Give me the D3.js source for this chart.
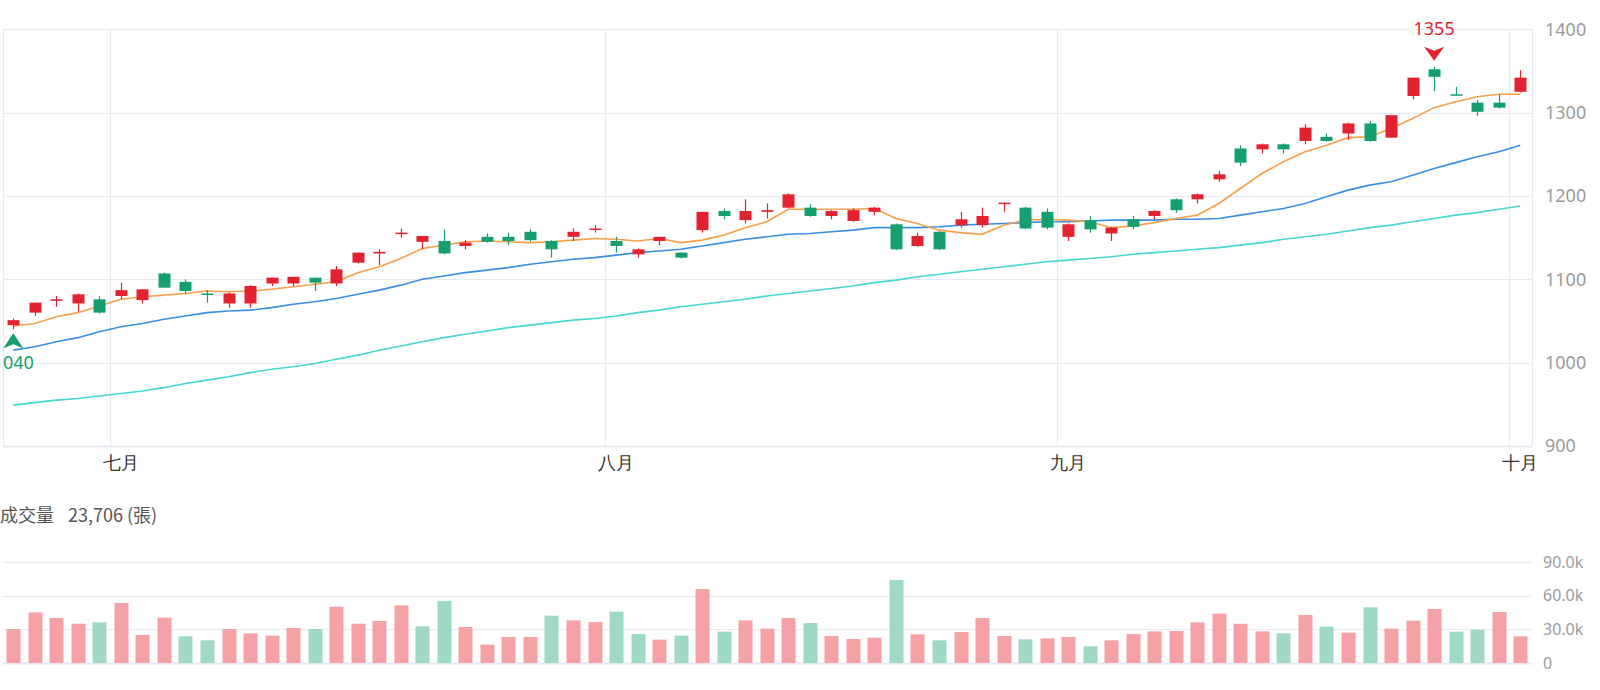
<!DOCTYPE html>
<html>
<head>
<meta charset="utf-8">
<style>
body { margin: 0; background: #fff; }
svg { display: block; font-family: "Noto Sans CJK TC", "Noto Sans", sans-serif; }
</style>
</head>
<body>
<div id="chart"></div>
<script src="https://cdnjs.cloudflare.com/ajax/libs/d3/7.8.5/d3.min.js"></script>
<script>
// trading days, 2025-06-24 .. 2025-10-01
var dates = [
  "06/24","06/25","06/26","06/27","06/30",
  "07/01","07/02","07/03","07/04","07/07","07/08","07/09","07/10","07/11","07/14","07/15","07/16",
  "07/17","07/18","07/21","07/22","07/23","07/24","07/25","07/28","07/29","07/30","07/31",
  "08/01","08/04","08/05","08/06","08/07","08/08","08/11","08/12","08/13","08/14","08/15","08/18",
  "08/19","08/20","08/21","08/22","08/25","08/26","08/27","08/28","08/29",
  "09/01","09/02","09/03","09/04","09/05","09/08","09/09","09/10","09/11","09/12","09/15","09/16",
  "09/17","09/18","09/19","09/22","09/23","09/24","09/25","09/26","09/30",
  "10/01"
];
var opens = [
  1045,1060,1075,1071,1076, 1080,1075,1107,1097,1083,1071,1071,1095,1095,1102,1095,1120,
  1131,1155,1145,1146,1140,1151,1151,1157,1146,1151,1160,
  1146,1130,1146,1132,1159,1182,1171,1181,1186,1186,1176,1170,
  1181,1166,1140,1157,1165,1165,1191,1186,1181,
  1151,1171,1155,1172,1176,1196,1196,1220,1257,1256,1262,1266,
  1271,1275,1287,1270,1320,1352,1322,1312,1312,
  1325
];
var closes = [
  1051,1072,1076,1082,1060, 1087,1088,1090,1086,1082,1083,1092,1102,1103,1096,1112,1132,
  1133,1156,1152,1131,1144,1145,1146,1147,1136,1157,1161,
  1140,1136,1151,1126,1181,1176,1182,1183,1202,1176,1182,1183,
  1186,1136,1152,1136,1172,1176,1192,1161,1162,
  1166,1160,1162,1163,1182,1183,1202,1226,1240,1262,1256,1282,
  1266,1287,1266,1297,1342,1343,1321,1301,1306,
  1342
];
var highs = [
  1053,1072,1080,1083,1080, 1096,1088,1108,1100,1087,1084,1093,1102,1103,1102,1116,1132,
  1136,1161,1152,1160,1147,1155,1156,1160,1147,1161,1165,
  1151,1137,1151,1132,1181,1185,1196,1191,1203,1190,1183,1185,
  1187,1167,1156,1158,1181,1186,1192,1187,1185,
  1167,1176,1163,1176,1183,1197,1203,1230,1261,1263,1263,1286,
  1275,1288,1290,1297,1342,1355,1331,1315,1322,
  1351
];
var lows = [
  1040,1056,1067,1061,1059, 1076,1071,1090,1082,1072,1066,1066,1092,1092,1086,1092,1119,
  1117,1150,1136,1130,1136,1144,1141,1145,1126,1146,1156,
  1132,1126,1141,1125,1156,1172,1167,1173,1185,1175,1172,1169,
  1177,1135,1139,1135,1162,1162,1181,1160,1160,
  1146,1156,1146,1160,1172,1180,1191,1217,1236,1251,1251,1262,
  1265,1267,1265,1270,1316,1326,1321,1296,1305,
  1324
];
var volumes = [
  30300,45100,40100,35000,36200, 53500,25000,40400,23800,20200,30300,26400,24400,31200,30300,50200,35000,
  37400,51400,32700,55200,32100,16300,23200,23200,42200,38000,36500,
  45700,25800,20800,24400,65900,27900,38000,30600,40100,35600,24100,21400,
  22600,74000,25500,20200,27600,40100,24100,21100,22000,
  23200,14900,20200,25800,28200,28500,36200,44000,35000,28200,26400,42800,
  32400,27000,49600,30600,37700,48100,27900,29700,45400,
  23706
];
var ma5 = [
  1044,1047,1055,1060,1068, 1076,1079,1081,1083,1086,1085,1086,1088,1091,1094,1097,1108,
  1115,1125,1137,1141,1145,1146,1145,1144,1145,1147,1149,
  1148,1146,1149,1144,1147,1153,1162,1169,1184,1184,1184,1184,
  1185,1173,1167,1159,1156,1154,1165,1171,1172,
  1171,1169,1162,1164,1168,1173,1177,1191,1209,1227,1241,1253,
  1261,1270,1271,1281,1293,1306,1313,1319,1322,
  1322
];
var ma20 = [
  1015,1019,1025,1030,1037, 1043,1047,1052,1056,1060,1062,1063,1066,1070,1073,1077,1082,
  1087,1093,1100,1104,1108,1111,1114,1118,1121,1124,1126,
  1129,1132,1134,1136,1140,1144,1148,1151,1154,1155,1157,1159,
  1162,1162,1162,1163,1165,1166,1167,1168,1169,
  1169,1170,1171,1171,1171,1172,1172,1173,1177,1181,1185,1191,
  1199,1207,1213,1217,1225,1233,1240,1247,1253,
  1261
];
var ma60 = [
  949,952,955,957,960, 963,966,970,975,979,983,988,992,995,999,1004,1009,
  1015,1020,1025,1030,1034,1038,1042,1045,1048,1051,1053,
  1056,1060,1063,1067,1070,1073,1076,1080,1083,1086,1089,1092,
  1096,1099,1103,1106,1109,1112,1115,1118,1121,
  1123,1125,1127,1130,1132,1134,1136,1138,1141,1144,1148,1151,
  1154,1158,1162,1165,1169,1173,1177,1180,1184,
  1188
];
var monthStarts = ["07/01", "08/01", "09/01", "10/01"];
var monthLabels = ["七月", "八月", "九月", "十月"];
var priceTicks = [900, 1000, 1100, 1200, 1300, 1400];
var volumeTicks = [0, 30000, 60000, 90000];
var volumeTickLabels = ["0", "30.0k", "60.0k", "90.0k"];

var width = 1600, height = 690;
var red = "#e2232f", green = "#169f6e";
var redSoft = "#f4a2a6", greenSoft = "#9fd8c3";
var gridColor = "#e7eaf2";
var left = 3, right = 1532;

var svg = d3.select("#chart").append("svg")
  .attr("width", width)
  .attr("height", height);

var x = d3.scaleBand()
  .domain(dates)
  .range([2.5, 1531])
  .padding(0);

var y = d3.scaleLinear()
  .domain([900, 1400])
  .range([446, 29.3]);

var yv = d3.scaleLinear()
  .domain([0, 90000])
  .range([663, 562]);

var cx = function(i) { return x(dates[i]) + x.bandwidth() / 2; };

// price grid
svg.append("g").selectAll("line.hgrid")
  .data(priceTicks).enter().append("line")
  .attr("class", "hgrid")
  .attr("x1", left).attr("x2", right)
  .attr("y1", function(d) { return Math.round(y(d)) + 0.5; })
  .attr("y2", function(d) { return Math.round(y(d)) + 0.5; })
  .attr("stroke", gridColor)
  .attr("stroke-width", function(d) { return d === 900 ? 2 : 1; });

svg.append("g").selectAll("line.vgrid")
  .data(monthStarts).enter().append("line")
  .attr("class", "vgrid")
  .attr("x1", function(d) { return Math.round(x(d)) + 0.5; })
  .attr("x2", function(d) { return Math.round(x(d)) + 0.5; })
  .attr("y1", y(1400)).attr("y2", y(900))
  .attr("stroke", gridColor);

svg.append("line")
  .attr("x1", left + 0.5).attr("x2", left + 0.5)
  .attr("y1", y(1400)).attr("y2", y(900))
  .attr("stroke", gridColor);
svg.append("line")
  .attr("x1", right + 0.5).attr("x2", right + 0.5)
  .attr("y1", y(1400)).attr("y2", y(900))
  .attr("stroke", gridColor);

// right price axis
var yAxis = svg.append("g")
  .attr("transform", "translate(1542,0)")
  .call(d3.axisRight(y).tickValues(priceTicks).tickSize(0).tickPadding(3)
    .tickFormat(d3.format("d")));
yAxis.select(".domain").remove();
yAxis.selectAll("text")
  .attr("fill", "#9b9b9b")
  .style("font-size", "18px")
  .style("font-family", "'Noto Sans', sans-serif");

// month axis
var xAxis = svg.append("g")
  .attr("transform", "translate(0,446)")
  .call(d3.axisBottom(x).tickValues(monthStarts).tickSize(0).tickPadding(10)
    .tickFormat(function(d) { return monthLabels[monthStarts.indexOf(d)]; }));
xAxis.select(".domain").remove();
xAxis.selectAll("text")
  .attr("fill", "#333")
  .style("font-size", "18px");

// moving averages
function maLine(values) {
  return d3.line()
    .x(function(d, i) { return cx(i); })
    .y(function(d) { return y(d); })(values);
}
svg.append("path").attr("d", maLine(ma60))
  .attr("fill", "none").attr("stroke", "#45d6cf").attr("stroke-width", 1.6);
svg.append("path").attr("d", maLine(ma20))
  .attr("fill", "none").attr("stroke", "#3a8ee3").attr("stroke-width", 1.6);
svg.append("path").attr("d", maLine(ma5))
  .attr("fill", "none").attr("stroke", "#f5a04b").attr("stroke-width", 1.6);

// candles
var candles = svg.append("g").selectAll("g.candle")
  .data(dates).enter().append("g")
  .attr("class", "candle");

candles.append("line")
  .attr("x1", function(d, i) { return Math.round(cx(i)) + 0.5; })
  .attr("x2", function(d, i) { return Math.round(cx(i)) + 0.5; })
  .attr("y1", function(d, i) { return y(highs[i]); })
  .attr("y2", function(d, i) { return y(lows[i]); })
  .attr("stroke", function(d, i) { return closes[i] >= opens[i] ? red : green; })
  .attr("stroke-width", 1.2);

candles.append("rect")
  .attr("x", function(d, i) { return Math.round(cx(i)) + 0.5 - 6; })
  .attr("width", 12)
  .attr("y", function(d, i) { return y(Math.max(opens[i], closes[i])); })
  .attr("height", function(d, i) {
    return Math.max(1.5, Math.abs(y(opens[i]) - y(closes[i])));
  })
  .attr("fill", function(d, i) { return closes[i] >= opens[i] ? red : green; });

// max / min markers
var hi = d3.maxIndex(highs), lo = d3.minIndex(lows);
var hx = cx(hi), hy = y(highs[hi]) - 6;
svg.append("path")
  .attr("d", "M" + hx + "," + hy + "L" + (hx - 10) + "," + (hy - 14) +
    "L" + hx + "," + (hy - 10) + "L" + (hx + 10) + "," + (hy - 14) + "Z")
  .attr("fill", red);
svg.append("text")
  .attr("x", hx).attr("y", hy - 26)
  .attr("text-anchor", "middle")
  .attr("fill", red)
  .style("font-size", "18px")
  .style("font-family", "'Noto Sans', sans-serif")
  .text(highs[hi]);

var lx = cx(lo), ly = y(lows[lo]) + 4;
svg.append("path")
  .attr("d", "M" + lx + "," + ly + "L" + (lx + 10) + "," + (ly + 15) +
    "L" + lx + "," + (ly + 11) + "L" + (lx - 10) + "," + (ly + 15) + "Z")
  .attr("fill", green);
svg.append("text")
  .attr("x", lx).attr("y", ly + 36)
  .attr("text-anchor", "middle")
  .attr("fill", green)
  .style("font-size", "18px")
  .style("font-family", "'Noto Sans', sans-serif")
  .text(lows[lo]);

// volume title
svg.append("text")
  .attr("x", 0).attr("y", 522)
  .attr("fill", "#555")
  .style("font-size", "18px")
  .text("成交量");
svg.append("text")
  .attr("x", 68).attr("y", 522)
  .attr("fill", "#555")
  .style("font-size", "18px")
  .text(d3.format(",")(volumes[volumes.length - 1]) + " (張)");

// volume grid
svg.append("g").selectAll("line.vgridh")
  .data(volumeTicks).enter().append("line")
  .attr("x1", left).attr("x2", right)
  .attr("y1", function(d) { return Math.round(yv(d)) + 0.5; })
  .attr("y2", function(d) { return Math.round(yv(d)) + 0.5; })
  .attr("stroke", gridColor)
  .attr("stroke-width", function(d) { return d === 0 ? 2 : 1; });

var vAxis = svg.append("g")
  .attr("transform", "translate(1540,0)")
  .call(d3.axisRight(yv).tickValues(volumeTicks).tickSize(0).tickPadding(3)
    .tickFormat(function(d, i) { return volumeTickLabels[i]; }));
vAxis.select(".domain").remove();
vAxis.selectAll("text")
  .attr("fill", "#9b9b9b")
  .style("font-size", "16px")
  .style("font-family", "'Noto Sans', sans-serif");

// volume bars, coloured by change from previous close
svg.append("g").selectAll("rect.vol")
  .data(volumes).enter().append("rect")
  .attr("class", "vol")
  .attr("x", function(d, i) { return Math.round(cx(i)) + 0.5 - 7; })
  .attr("width", 14)
  .attr("y", function(d) { return yv(d); })
  .attr("height", function(d) { return yv(0) - yv(d); })
  .attr("fill", function(d, i) {
    var prev = i > 0 ? closes[i - 1] : opens[i];
    return closes[i] >= prev ? redSoft : greenSoft;
  });
</script>
</body>
</html>
